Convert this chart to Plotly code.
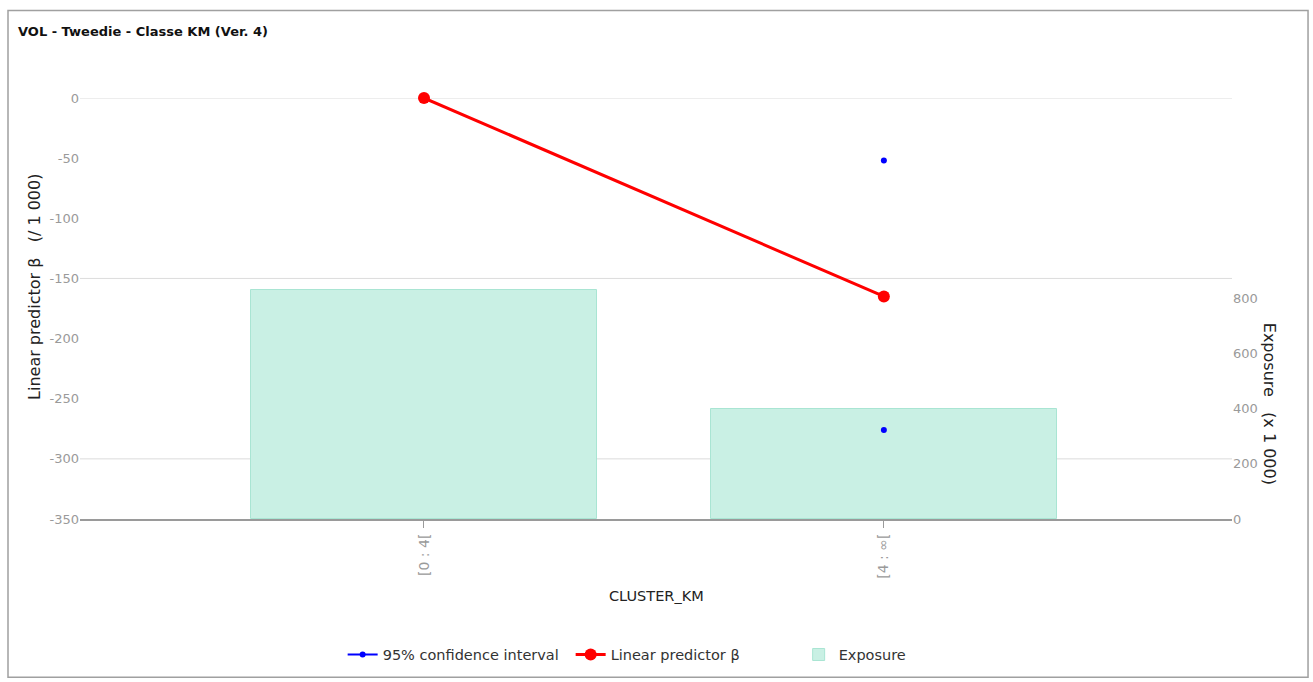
import plotly.graph_objects as go

categories = ["[0 : 4[", "[4 : ∞["]
beta = [0, -165]
ci_upper = [None, -52]
ci_lower = [None, -276]
exposure = [829, 400]
left_ticks = [0, -50, -100, -150, -200, -250, -300, -350]
left_grid = [0, -150, -300]
right_ticks = [0, 200, 400, 600, 800]

FONT = "DejaVu Sans"
GRAY = "#9a9a9a"
NB = "\u00a0"

# CI points: upper and lower separated by gaps so no line joins them
ci_x, ci_y = [], []
for c, u, l in zip(categories, ci_upper, ci_lower):
    ci_x += [c, c, c]
    ci_y += [u, None, l]

fig = go.Figure()
fig.add_trace(go.Bar(
    x=categories, y=exposure, name="Exposure", yaxis="y", width=0.754,
    marker=dict(color="#c9f0e4", line=dict(color="#a9e5d3", width=1)),
    legendrank=3,
))
fig.add_trace(go.Scatter(
    x=ci_x, y=ci_y, name="95% confidence interval", yaxis="y2",
    mode="lines+markers", connectgaps=False,
    line=dict(color="#0000ff", width=2), marker=dict(color="#0000ff", size=6),
    cliponaxis=False, legendrank=1,
))
fig.add_trace(go.Scatter(
    x=categories, y=beta, name="Linear predictor β", yaxis="y2",
    mode="lines+markers", line=dict(color="#ff0000", width=3),
    marker=dict(color="#ff0000", size=12), cliponaxis=False, legendrank=2,
))

shapes = [dict(type="line", xref="paper", x0=0, x1=1, yref="y2", y0=g, y1=g,
               line=dict(color="#dcdcdc", width=1), layer="below") for g in left_grid]
shapes.append(dict(type="rect", xref="paper", yref="paper",
                   x0=-0.0625, x1=1.066, y0=-0.376, y1=1.208,
                   line=dict(color="#a0a0a0", width=1.5)))

fig.update_layout(
    width=1313, height=682,
    margin=dict(l=80, r=81, t=98, b=161),
    paper_bgcolor="white", plot_bgcolor="white",
    font=dict(family=FONT, size=14, color="#333"),
    showlegend=True,
    legend=dict(orientation="h", x=0.228, y=-0.322, xanchor="left", yanchor="middle",
                font=dict(family=FONT, size=14.5, color="#333"), itemwidth=30,
                entrywidth=183, traceorder="normal"),
    bargap=0,
    xaxis=dict(type="category", range=[-0.748, 1.757], tickangle=-90,
               showline=True, linecolor=GRAY, linewidth=2,
               ticks="outside", ticklen=7, tickcolor=GRAY,
               tickfont=dict(family=FONT, size=14, color=GRAY), showgrid=False,
               zeroline=False),
    yaxis=dict(side="right", range=[0, 1524], tickvals=right_ticks,
               showgrid=False, zeroline=False, showline=False,
               tickfont=dict(family=FONT, size=13, color=GRAY)),
    yaxis2=dict(side="left", overlaying="y", range=[-350, 0], tickvals=left_ticks,
                ticktext=[str(v) for v in left_ticks],
                showgrid=False, zeroline=False, showline=False,
                tickfont=dict(family=FONT, size=13, color=GRAY)),
    shapes=shapes,
    annotations=[
        dict(text="<b>VOL - Tweedie - Classe KM (Ver. 4)</b>", xref="paper", yref="paper",
             x=-0.0555, y=1.159, xanchor="left", yanchor="middle", showarrow=False,
             font=dict(family=FONT, size=13, color="#111")),
        dict(text="Linear predictor β" + NB * 3 + "(/ 1 000)", xref="paper", yref="paper",
             x=-0.040, y=0.551, textangle=-90, showarrow=False,
             xanchor="center", yanchor="middle",
             font=dict(family=FONT, size=16, color="#222")),
        dict(text="Exposure" + NB * 3 + "(x 1 000)", xref="paper", yref="paper",
             x=1.032, y=0.274, textangle=90, showarrow=False,
             xanchor="center", yanchor="middle",
             font=dict(family=FONT, size=16, color="#222")),
        dict(text="CLUSTER_KM", xref="paper", yref="paper", x=0.5, y=-0.182,
             showarrow=False, xanchor="center", yanchor="middle",
             font=dict(family=FONT, size=14.5, color="#222")),
    ],
)

fig.write_html("out.html", config={"displayModeBar": False},
               post_script="document.body.style.margin='0';")
